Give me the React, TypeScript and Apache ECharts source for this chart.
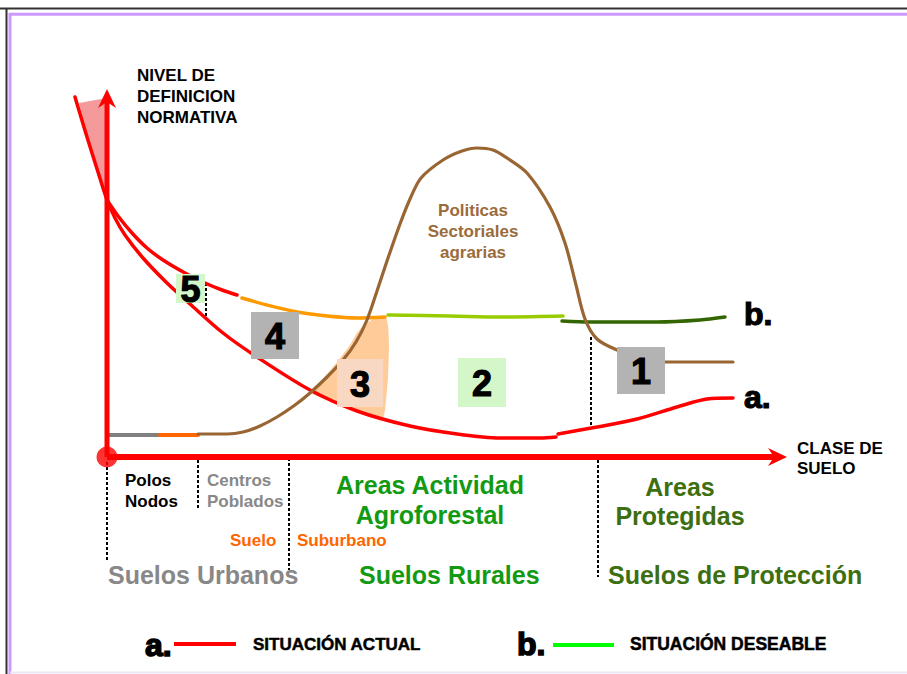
import React, { useEffect, useRef } from "react";
import * as echarts from "echarts";

const FONT = '"Liberation Sans", Arial, Helvetica, sans-serif';

// Data space: x = clase de suelo (0 = origin), y = nivel de definición normativa (0 = axis)
const xAxisEnd = 680;
const yAxisEnd = 368;

// a. situación actual (two strokes, as in the drawing)
const curveA1: number[][] = [
  [-32, 360], [-20, 320], [-9, 285], [0, 257], [8, 239], [18, 222], [36, 199], [60, 174],
  [83, 153], [116, 124], [150, 100], [203, 67], [250, 46], [303, 31], [350, 23], [393, 19],
  [433, 19], [449, 20],
];
const curveA2: number[][] = [
  [451, 23], [490, 30], [530, 38], [570, 50], [600, 58], [626, 59],
];

// b. situación deseable (segments)
const curveBRed: number[][] = [
  [0, 257], [11, 241], [25, 224], [40, 209], [56, 197], [78, 184], [98, 174], [115, 167], [130, 162],
];
const curveBOrange: number[][] = [
  [135, 159], [160, 152], [190, 145], [220, 141], [250, 139], [278, 140],
];
const curveBLightGreen: number[][] = [[281, 142], [343, 141], [393, 140], [456, 141]];
const curveBDarkGreen: number[][] = [[455, 136], [483, 135], [550, 135], [593, 137], [618, 140]];

// Políticas sectoriales agrarias
const baseGray: number[][] = [[0, 22], [53, 22]];
const baseOrange: number[][] = [[53, 22], [91, 22]];
const brownCurve: number[][] = [
  [91, 23], [120, 23], [136, 25], [153, 31], [170, 40], [188, 52], [203, 64], [220, 80],
  [236, 97], [249, 115], [260, 137], [270, 166], [280, 196], [293, 233], [303, 258], [314, 279],
  [336, 297], [355, 306], [370, 309], [386, 307], [400, 299], [420, 284], [443, 250], [458, 214],
  [469, 172], [478, 138], [490, 118], [510, 107], [533, 100], [558, 95], [626, 95],
];

const pinkArea: number[][] = [[-28, 354], [0, 359], [0, 257], [-9, 285], [-20, 320]];
const peachArea: number[][] = [
  [203, 65], [215, 77], [230, 95], [243, 112], [250, 124], [256, 131], [266, 138], [278, 141],
  [281, 132], [282, 112], [281, 80], [279, 57], [276, 39], [263, 40], [250, 46], [233, 52], [218, 58],
];

// numbered zones [x0, y0, x1, y1]
const zoneLabels = ["5", "4", "3", "2", "1"];
const zoneBoxes: number[][] = [
  [69, 154, 98, 183],
  [144, 98, 192, 145],
  [230, 50, 276, 98],
  [351, 50, 399, 99],
  [510, 63, 558, 110],
];
const zoneColors = ["#d3f7c8", "#b3b3b3", "#f9d8c3", "#d3f7c8", "#b3b3b3"];

// dotted dividers [x, y0, y1]
const dividers: number[][] = [
  [99, 174, 137], [484, 120, 32], [0, -5, -103], [91, -3, -53], [182, -1, -113], [491, -3, -120],
];

const lineSeries = (data: number[][], color: string, width: number, z = 3) => ({
  type: "line",
  data,
  symbol: "none",
  smooth: 0.3,
  silent: true,
  z,
  lineStyle: { color, width, cap: "round" },
});

const polySeries = (pts: number[][], fill: string, smooth: number) => ({
  type: "custom",
  data: pts,
  silent: true,
  z: 1,
  renderItem: (params: any, api: any) => {
    if (params.dataIndex !== 0) return null;
    return {
      type: "polygon",
      shape: { points: pts.map((p) => api.coord(p)), smooth },
      style: { fill },
    };
  },
});

const txt = (
  text: string, x: number, y: number, size: number, color: string,
  align = "left", heavy = 0,
) => ({
  type: "text",
  x,
  y,
  z: 20,
  silent: true,
  style: {
    text,
    fill: color,
    stroke: heavy ? color : undefined,
    lineWidth: heavy,
    font: `bold ${size}px ${FONT}`,
    textAlign: align,
    textVerticalAlign: "middle",
    align,
    verticalAlign: "middle",
  },
});

const ln = (x1: number, y1: number, x2: number, y2: number, stroke: string, lineWidth: number) => ({
  type: "line",
  silent: true,
  z: 20,
  shape: { x1, y1, x2, y2 },
  style: { stroke, lineWidth },
});

export default function App() {
  const ref = useRef<HTMLDivElement>(null);
  useEffect(() => {
    if (!ref.current) return;
    const chart = echarts.init(ref.current, undefined, { renderer: "svg" });
    const option: any = {
      animation: false,
      backgroundColor: "#ffffff",
      grid: { left: 0, right: 0, top: 0, bottom: 0 },
      xAxis: { type: "value", min: -107, max: 800, show: false },
      yAxis: { type: "value", min: -217, max: 457, show: false },
      series: [
        polySeries(pinkArea, "#f59a9a", 0),
        polySeries(peachArea, "#ffcc99", 0.2),
        lineSeries(curveA1, "#ff0000", 3.5),
        lineSeries(curveA2, "#ff0000", 3.5),
        lineSeries(curveBRed, "#ff0000", 3.5),
        lineSeries(curveBOrange, "#ff9900", 3.5),
        lineSeries(curveBLightGreen, "#99cc00", 3.5),
        lineSeries(curveBDarkGreen, "#336600", 3.5),
        lineSeries(baseGray, "#808080", 4),
        lineSeries(baseOrange, "#ff6600", 4),
        lineSeries(brownCurve, "#996633", 3.2),
        {
          type: "custom",
          data: dividers,
          silent: true,
          z: 2,
          renderItem: (params: any, api: any) => {
            const d = dividers[params.dataIndex];
            const a = api.coord([d[0], d[1]]);
            const b = api.coord([d[0], d[2]]);
            return {
              type: "line",
              shape: { x1: a[0], y1: a[1], x2: b[0], y2: b[1] },
              style: { stroke: "#000", lineWidth: 2, lineDash: [3, 2] },
            };
          },
        },
        {
          type: "custom",
          data: [[xAxisEnd, 0], [0, yAxisEnd]],
          silent: true,
          z: 6,
          renderItem: (params: any, api: any) => {
            const p0 = api.coord([0, 0]);
            const end = params.dataIndex === 0 ? [xAxisEnd, 0] : [0, yAxisEnd];
            const p1 = api.coord(end);
            const dx = p1[0] - p0[0];
            const dy = p1[1] - p0[1];
            const len = Math.sqrt(dx * dx + dy * dy);
            const ux = dx / len, uy = dy / len;
            const nx = -uy, ny = ux;
            const L = 19, W = 9, N = 13;
            const lw = params.dataIndex === 0 ? 6 : 5;
            return {
              type: "group",
              children: [
                {
                  type: "line",
                  shape: { x1: p0[0], y1: p0[1], x2: p1[0] - ux * N, y2: p1[1] - uy * N },
                  style: { stroke: "#ff0000", lineWidth: lw },
                },
                {
                  type: "polygon",
                  shape: {
                    points: [
                      p1,
                      [p1[0] - ux * L + nx * W, p1[1] - uy * L + ny * W],
                      [p1[0] - ux * N, p1[1] - uy * N],
                      [p1[0] - ux * L - nx * W, p1[1] - uy * L - ny * W],
                    ],
                  },
                  style: { fill: "#ff0000" },
                },
              ],
            };
          },
        },
        {
          type: "scatter",
          data: [[0, 0]],
          symbol: "circle",
          symbolSize: 21,
          silent: true,
          z: 7,
          itemStyle: { color: "#ff0000" },
        },
        {
          type: "custom",
          data: zoneBoxes,
          silent: true,
          z: 8,
          renderItem: (params: any, api: any) => {
            const i = params.dataIndex;
            const b = zoneBoxes[i];
            const tl = api.coord([b[0], b[3]]);
            const br = api.coord([b[2], b[1]]);
            return {
              type: "group",
              children: [
                {
                  type: "rect",
                  shape: { x: tl[0], y: tl[1], width: br[0] - tl[0], height: br[1] - tl[1] },
                  style: { fill: zoneColors[i] },
                },
                {
                  type: "text",
                  style: {
                    text: zoneLabels[i],
                    x: (tl[0] + br[0]) / 2,
                    y: (tl[1] + br[1]) / 2 + 1,
                    align: "center",
                    verticalAlign: "middle",
                    textAlign: "center",
                    textVerticalAlign: "middle",
                    fill: "#000000",
                    stroke: "#000000",
                    lineWidth: 1.2,
                    font: `bold 36px ${FONT}`,
                  },
                },
              ],
            };
          },
        },
      ],
      graphic: [
        // frame
        ln(0, 8.5, 907, 8.5, "#333333", 2),
        ln(6.5, 8, 6.5, 674, "#333333", 2),
        ln(9, 14.3, 907, 14.3, "#cc99ff", 3),
        ln(10, 13, 10, 674, "#cc99ff", 3),
        ln(10, 672.5, 907, 672.5, "#ece6f6", 2),
        // axis titles
        txt("NIVEL DE", 137, 75, 17, "#000"),
        txt("DEFINICION", 137, 96, 17, "#000"),
        txt("NORMATIVA", 137, 117, 17, "#000"),
        txt("CLASE DE", 797, 448, 17, "#000"),
        txt("SUELO", 797, 468, 17, "#000"),
        // curve notes
        txt("Politicas", 473, 210, 17, "#9c6b3a", "center"),
        txt("Sectoriales", 473, 231, 17, "#9c6b3a", "center"),
        txt("agrarias", 473, 252, 17, "#9c6b3a", "center"),
        txt("b.", 744, 314, 32, "#000", "left", 1.2),
        txt("a.", 744, 397, 32, "#000", "left", 1.2),
        // categories
        txt("Polos", 125, 480, 17, "#000"),
        txt("Nodos", 125, 501, 17, "#000"),
        txt("Centros", 207, 480, 17, "#888888"),
        txt("Poblados", 207, 501, 17, "#888888"),
        txt("Suelo", 230, 540, 17, "#ff6600"),
        txt("Suburbano", 297, 540, 17, "#ff6600"),
        txt("Areas Actividad", 430, 485, 25, "#139a13", "center"),
        txt("Agroforestal", 430, 515, 25, "#139a13", "center"),
        txt("Areas", 680, 487, 25, "#3d6f10", "center"),
        txt("Protegidas", 680, 516, 25, "#3d6f10", "center"),
        txt("Suelos Urbanos", 108, 575, 25, "#888888"),
        txt("Suelos Rurales", 359, 575, 25, "#139a13"),
        txt("Suelos de Protección", 608, 575, 25, "#3d6f10"),
        // legend
        txt("a.", 145, 645, 32, "#000", "left", 1.5),
        ln(174, 644, 236, 644, "#ff0000", 4),
        txt("SITUACIÓN ACTUAL", 253, 644, 17, "#000", "left", 0.5),
        txt("b.", 517, 644, 32, "#000", "left", 1.5),
        ln(553, 645, 614, 645, "#00ff00", 4),
        txt("SITUACIÓN DESEABLE", 630, 644, 17.5, "#000", "left", 0.5),
      ],
    };
    chart.setOption(option);
    return () => chart.dispose();
  }, []);
  return (
    <div
      ref={ref}
      style={{ position: "absolute", left: 0, top: 0, width: 907, height: 674 }}
    />
  );
}
